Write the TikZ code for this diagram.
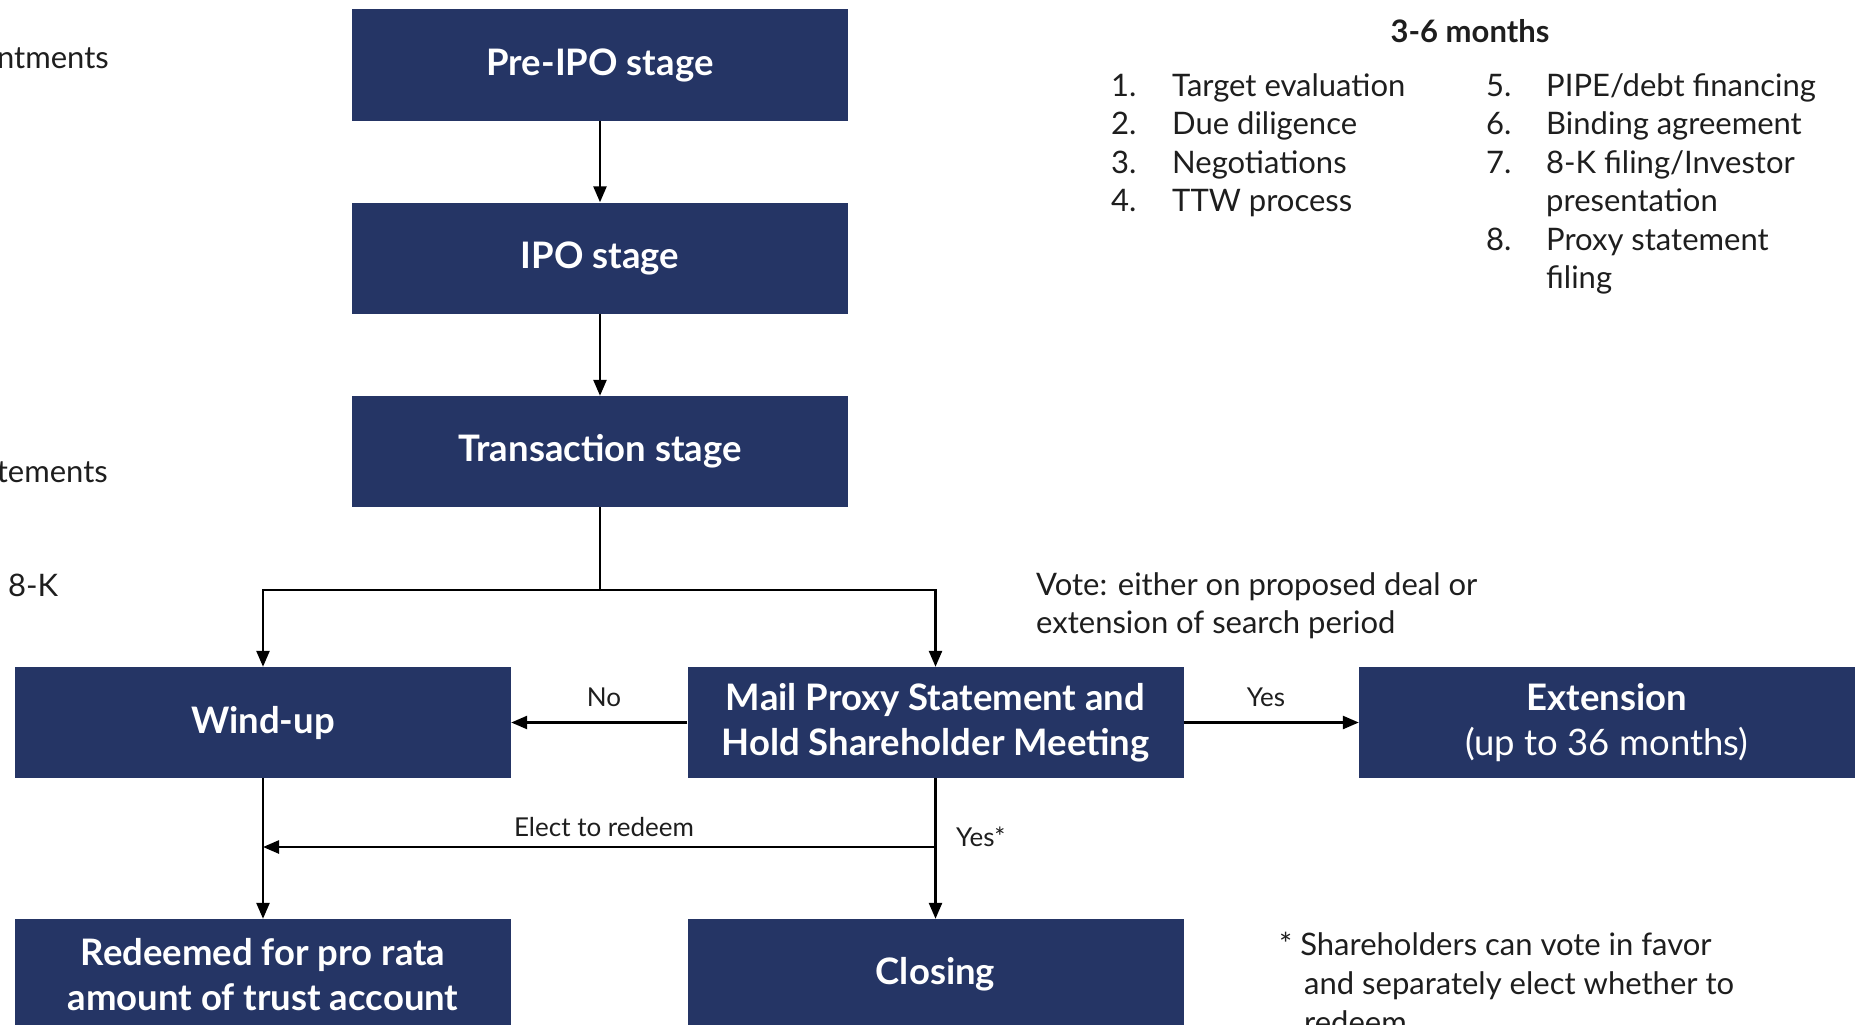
\documentclass[tikz,border=0pt]{standalone}
\usepackage{fontspec}
\setmainfont{Lato}
\usepackage{tikz}
\usetikzlibrary{arrows.meta,positioning}

\definecolor{spacnavy}{HTML}{253565}
\definecolor{spactext}{HTML}{1E1E1E}

\begin{document}
\begin{tikzpicture}[x=1pt,y=-1pt]
	\tikzstyle{stage}=[fill=spacnavy, text=white, minimum width=496pt, minimum height=111pt, inner sep=0pt, align=center, font=\fontsize{36.5}{45}\selectfont\bfseries]
	\tikzstyle{note}=[text=spactext, inner sep=0pt, font=\fontsize{31}{38.5}\selectfont]
	\tikzstyle{tag}=[note, font=\fontsize{26}{30}\selectfont]
	\tikzstyle{flow}=[-{Triangle[length=16pt,width=13pt]}, line width=2.5pt]
	
	\useasboundingbox (0,0) rectangle (1860,1025);
	
	%% stage boxes
	\node [stage]  (pre)     at (600,65)    {Pre-IPO stage};
	\node [stage]  (ipo)     at (600,258)   {IPO stage};
	\node [stage]  (trans)   at (600,451.5) {Transaction stage};
	\node [stage]  (wind)    at (263,722.5) {Wind-up};
	\node [stage]  (mail)    at (935.5,722.5) {Mail Proxy Statement and\\Hold Shareholder Meeting};
	\node [stage]  (ext)     at (1607,722.5) {Extension\\{\mdseries(up to 36 months)}};
	\node [stage]  (redeem)  at (263,974.5) {Redeemed for pro rata\\amount of trust account};
	\node [stage]  (closing) at (935.5,974.5) {Closing};
	
	%% cut-off side notes
	\node [note, anchor=base east]  (invest)  at (109,69)  {ntments};
	\node [note, anchor=base east]  (stmts)   at (108,482) {tements};
	\node [note, anchor=base west]  (eightk)  at (8,596)   {8-K};
	
	%% timeline list
	\node [note, anchor=base, font=\fontsize{31}{38.5}\selectfont\bfseries]  (months)  at (1470,43) {3-6 months};
	\node [note, anchor=base west]  (n1)  at (1111,96)    {1.};
	\node [note, anchor=base west]  (t1)  at (1172,96)    {Target evaluation};
	\node [note, anchor=base west]  (n2)  at (1111,134.5) {2.};
	\node [note, anchor=base west]  (t2)  at (1172,134.5) {Due diligence};
	\node [note, anchor=base west]  (n3)  at (1111,173)   {3.};
	\node [note, anchor=base west]  (t3)  at (1172,173)   {Negotiations};
	\node [note, anchor=base west]  (n4)  at (1111,211.5) {4.};
	\node [note, anchor=base west]  (t4)  at (1172,211.5) {TTW process};
	\node [note, anchor=base west]  (n5)  at (1486,96)    {5.};
	\node [note, anchor=base west]  (t5)  at (1546,96)    {PIPE/debt financing};
	\node [note, anchor=base west]  (n6)  at (1486,134.5) {6.};
	\node [note, anchor=base west]  (t6)  at (1546,134.5) {Binding agreement};
	\node [note, anchor=base west]  (n7)  at (1486,173)   {7.};
	\node [note, anchor=base west]  (t7)  at (1546,173)   {8-K filing/Investor};
	\node [note, anchor=base west]  (t7b) at (1546,211.5) {presentation};
	\node [note, anchor=base west]  (n8)  at (1486,250)   {8.};
	\node [note, anchor=base west]  (t8)  at (1546,250)   {Proxy statement};
	\node [note, anchor=base west]  (t8b) at (1546,288.5) {filing};
	
	%% vote note and footnote
	\node [note, anchor=base west]  (vote1)  at (1036,595) {Vote: either on proposed deal or};
	\node [note, anchor=base west]  (vote2)  at (1036,633) {extension of search period};
	\node [note, anchor=base west]  (foot1)  at (1279,955)  {* Shareholders can vote in favor};
	\node [note, anchor=base west]  (foot2)  at (1304,994)  {and separately elect whether to};
	\node [note, anchor=base west]  (foot3)  at (1304,1033) {redeem};
	
	%% connectors
	\coordinate (split) at (600,590);
	\coordinate (electR) at (935.5,847);
	\draw [flow]  (pre) -- (ipo);
	\draw [flow]  (ipo) -- (trans);
	\draw [line width=2.5pt]  (trans.south) -- (split);
	\draw [flow]  (split) -| (wind.north);
	\draw [flow]  (split) -| (mail.north);
	\draw [flow]  (mail.west) -- (wind.east);
	\draw [flow]  (mail.east) -- (ext.west);
	\draw [flow]  (wind.south) -- (redeem.north);
	\draw [flow]  (mail.south) -- (closing.north);
	\draw [flow]  (electR) -- (electR -| wind.south);
	
	%% connector labels
	\node [tag]  (no)     at (604,697)  {No};
	\node [tag]  (yes)    at (1266,697) {Yes};
	\node [tag]  (elect)  at (604,827)  {Elect to redeem};
	\node [tag, anchor=west]  (yesstar) at (956,837) {Yes*};

\end{tikzpicture}
\end{document}
